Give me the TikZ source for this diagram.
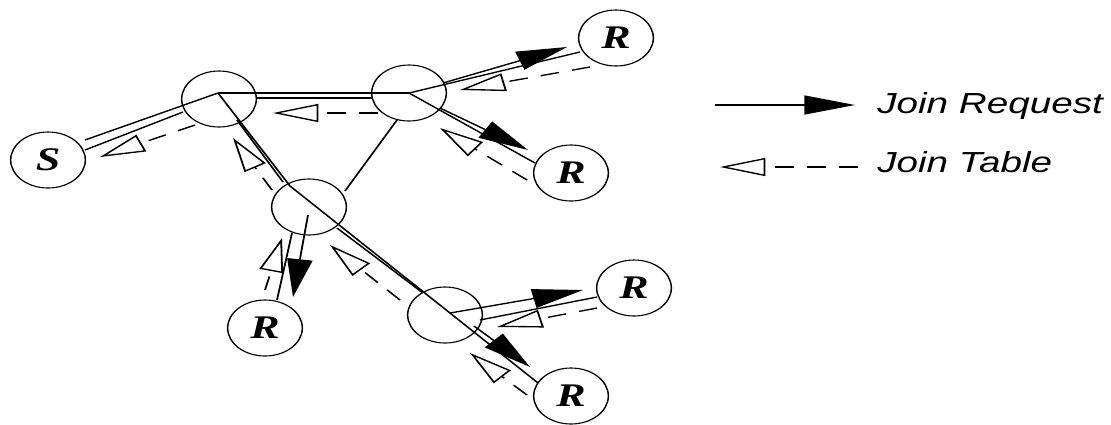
\documentclass[tikz,border=0pt]{standalone}
\usepackage{fontspec}
\setmainfont{Liberation Serif}
\newfontfamily\legendfont{Liberation Sans}
\usetikzlibrary{arrows.meta,calc}

\tikzset{
  hostnode/.style={circle, draw, line width=1.1pt, minimum size=56pt, inner sep=0pt},
  endnode/.style={hostnode, font=\fontsize{33}{33}\selectfont\bfseries\itshape},
  link/.style={line width=1.35pt},
  request/.style={line width=1.35pt, -{Triangle[length=38pt,width=19pt]}},
  jointable/.style={line width=1.35pt, dash pattern=on 14pt off 10pt,
    -{Triangle[open,length=34pt,width=18pt]}},
  legendtext/.style={font=\legendfont\fontsize{29}{29}\selectfont\itshape,
    anchor=base west, inner sep=0pt},
}

\begin{document}
\begin{tikzpicture}
\useasboundingbox (0pt,0pt) rectangle (1111pt,-424pt);
% drawn on a round-node grid, then widened horizontally
\begin{scope}[x=0.75pt, y=-1pt, transform canvas={xscale=4/3}]
  % source, routers and receivers
  \node[endnode]  (S)  at (48,160)  {S};
  \node[hostnode] (A)  at (219,99)  {};
  \node[hostnode] (B)  at (409,93)  {};
  \node[hostnode] (C)  at (309,207) {};
  \node[hostnode] (D)  at (445,315) {};
  \node[endnode]  (R1) at (616,38)  {R};
  \node[endnode]  (R2) at (571,173) {R};
  \node[endnode]  (R3) at (265,328) {R};
  \node[endnode]  (R4) at (634,288) {R};
  \node[endnode]  (R5) at (571,396) {R};

  % junction points inside the routers
  \coordinate (Ah) at ($(A)+(-1,-6)$);
  \coordinate (Ch) at ($(C)+(-19,-21)$);
  \coordinate (Dh) at ($(D)+(5,-2)$);

  % tree links
  \draw[link] (Ah) -- ($(S)+(37,-20)$);
  \draw[link] (Ah) -- (B.center);
  \draw[link] (Ah) -- (Ch) -- (Dh) -- ($(R5)+(-33,-13)$);
  \draw[link] (B.center) -- ($(R1)+(-36,14)$);
  \draw[link] (B.center) -- ($(R2)+(-36,-10)$);
  \draw[link] ($(C)+(-17,26)$) -- ($(R3)+(12,-28)$);
  \draw[link] ($(D)+(35,5)$) -- ($(R4)+(-37,9)$);
  \draw[link] ($(B)+(-12,27)$) -- ($(C)+(36,-16)$);

  % join requests
  \draw[link] ($(S)+(37,-10)$) -- ($(A)+(-36,13)$);
  \draw[link] ($(A)+(37,-1)$) -- ($(B)+(-36,5)$);
  \draw[link] ($(A)+(18,21)$) -- ($(C)+(-26,-25)$);
  \draw[link] ($(C)+(28,21)$) -- ($(D)+(-22,-22)$);
  \draw[request] ($(D)+(29,11)$) -- ($(R5)+(-41,-29)$);
  \draw[request] ($(B)+(34,-10)$) -- ($(R1)+(-49,9)$);
  \draw[request] ($(B)+(31,15)$) -- ($(R2)+(-43,-23)$);
  \draw[request] ($(C)+(-1,8)$) -- ($(R3)+(28,-31)$);
  \draw[request] (Dh) -- ($(R4)+(-51,2)$);

  % join tables flowing back up the tree
  \draw[jointable] ($(A)+(-24,26)$) -- ($(S)+(52,-3)$);
  \draw[jointable] ($(B)+(-31,20)$) -- ($(A)+(54,14)$);
  \draw[jointable] ($(C)+(-37,-17)$) -- ($(A)+(14,39)$);
  \draw[jointable] ($(D)+(-45,-15)$) -- ($(C)+(21,38)$);
  \draw[jointable] ($(R5)+(-44,-1)$) -- ($(D)+(25,38)$);
  \draw[jointable] ($(R1)+(-26,29)$) -- ($(B)+(51,-3)$);
  \draw[jointable] ($(R2)+(-44,7)$) -- ($(B)+(31,35)$);
  \draw[jointable] ($(R3)+(0,-38)$) -- ($(C)+(-27,31)$);
  \draw[jointable] ($(R4)+(-37,20)$) -- ($(D)+(52,12)$);

  % legend
  \coordinate (reqstart) at (715,105);
  \coordinate (reqend)   at (855,105);
  \coordinate (tabstart) at (858,167);
  \coordinate (tabend)   at (720,167);
  \draw[request] (reqstart) -- (reqend);
  \draw[jointable] (tabstart) -- (tabend);
  \node[legendtext] (reqlabel) at (877,113) {Join Request};
  \node[legendtext] (tablabel) at (877,172) {Join Table};
\end{scope}
\end{tikzpicture}
\end{document}
